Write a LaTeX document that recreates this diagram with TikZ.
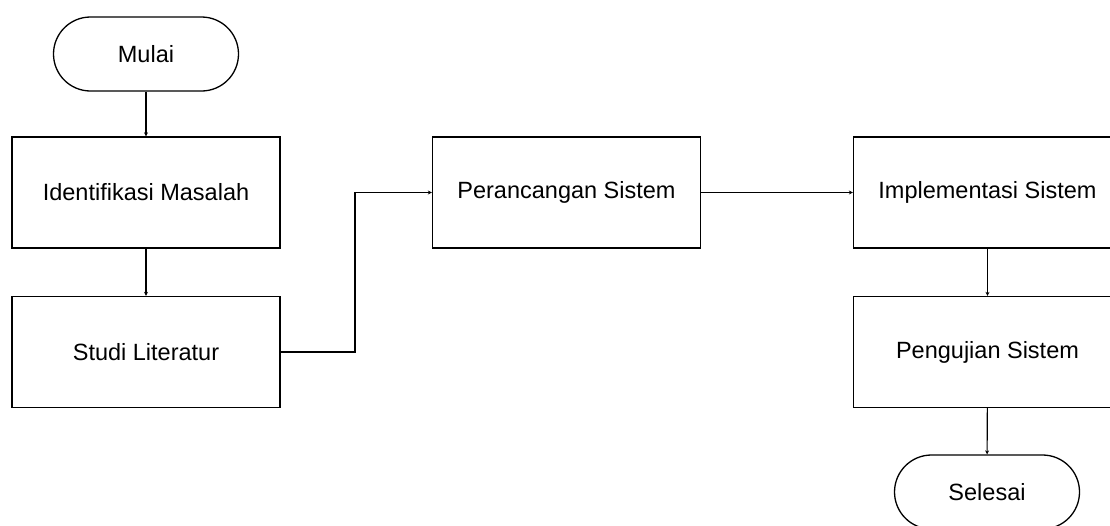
\documentclass[tikz,border=0pt]{standalone}
\usepackage{fontspec}
\setmainfont{Liberation Sans}
\usetikzlibrary{arrows.meta}
\begin{document}
\begin{tikzpicture}[x=1pt,y=-1pt,
  every node/.style={font=\fontsize{23.5}{27}\selectfont, inner sep=0pt},
  procbox/.style={draw, line width=1.3pt, minimum width=268pt, minimum height=111pt},
  term/.style={draw, line width=1.3pt, rounded corners=37pt, minimum width=185pt, minimum height=74pt},
  flow/.style={line width=1.1pt, -{Stealth[length=4pt,width=4pt]}}]
\useasboundingbox (0,0) rectangle (1110,525);
\clip (0,0) rectangle (1110,525);
% start and end terminals
\node[term] (mulai) at (146,54) {Mulai};
\node[term] (selesai) at (987,492) {Selesai};
% process steps
\node[procbox] (ident) at (146,192.5) {Identifikasi Masalah};
\node[procbox] (studi) at (146,352) {Studi Literatur};
\node[procbox] (ranc) at (566.5,192.5) {Perancangan Sistem};
\node[procbox] (impl) at (987.5,192.5) {Implementasi Sistem};
\node[procbox] (uji) at (987.5,352) {Pengujian Sistem};
% connectors
\draw[flow] (mulai) -- (ident);
\draw[flow] (ident) -- (studi);
\coordinate (bend) at (355,352);
\draw[flow] (studi.east) -- (bend) |- (ranc.west);
\draw[flow] (ranc) -- (impl);
\draw[flow] (impl) -- (uji);
\draw[flow] (uji) -- (selesai);
\end{tikzpicture}
\end{document}
